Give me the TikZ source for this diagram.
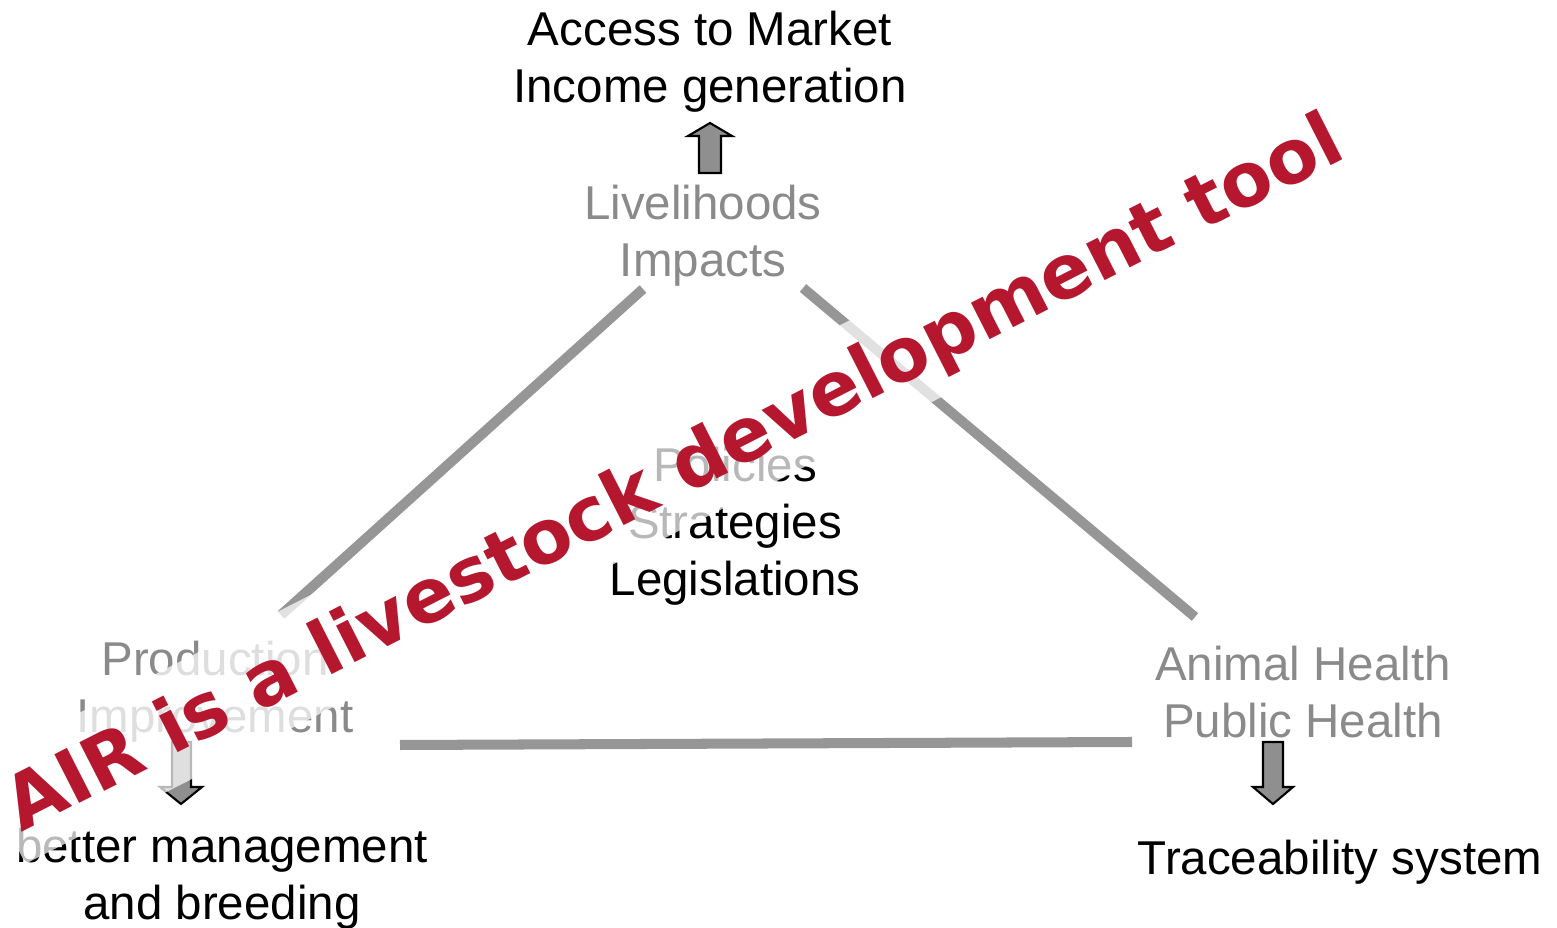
\documentclass[tikz,border=0pt]{standalone}
\usepackage{fontspec}
\setmainfont{Liberation Sans}
\newfontfamily\airfont{DejaVu Sans}
\usetikzlibrary{positioning}

\definecolor{airred}{RGB}{181,24,46}
\definecolor{linegray}{RGB}{150,150,150}
\definecolor{textgray}{RGB}{138,138,138}
\definecolor{arrowgray}{RGB}{143,143,143}

\begin{document}
\begin{tikzpicture}
  [x=0.01cm,y=-0.01cm,
   every node/.style={font=\fontsize{13.5}{16.2}\selectfont,align=center,inner sep=2pt},
   topic/.style={text=textgray},
   link/.style={draw=linegray,line width=2.85pt},
   blockarrow/.style={draw=black,fill=arrowgray,line width=0.6pt,line join=miter},
   airband/.style={anchor=base,rotate=27,fill=white,fill opacity=.72,text opacity=1,
     text=airred,font=\airfont\bfseries\fontsize{21.3}{21.3}\selectfont,
     text height=23pt,text depth=8.3pt,inner ysep=0pt,inner xsep=3pt}]
  \useasboundingbox (0,0) rectangle (1557,928);

  % corners of the triangle
  \node (market) at (710,62) {Access to Market\\Income generation};
  \node[topic] (liveli) at (703,236) {Livelihoods\\Impacts};
  \node (policy) at (735,526) {Policies\\Strategies\\Legislations};
  \node[topic] (prod) at (215,692) {Production\\Improvement};
  \node[topic] (health) at (1303,692) {Animal Health\\Public Health};
  \node (breed) at (222,879) {better management\\and breeding};
  \node (trace) at (1340,862) {Traceability system};

  % line ends
  \coordinate (lt) at (643,289);
  \coordinate (lb) at (281,615);
  \coordinate (rt) at (803,288);
  \coordinate (rb) at (1195,617);
  \coordinate (bl) at (400,745);
  \coordinate (br) at (1132,742);

  \draw[link] (lt) -- (lb);
  \draw[link] (rt) -- (rb);
  \draw[link] (bl) -- (br);

  % block arrows
  \draw[blockarrow] (699,173) -- (699,136) -- (688,136) -- (710,123)
    -- (732,136) -- (721,136) -- (721,173) -- cycle;
  \draw[blockarrow] (172,742) -- (172,787) -- (160,787) -- (181,804)
    -- (202,787) -- (191,787) -- (191,742) -- cycle;
  \draw[blockarrow] (1263,742) -- (1263,787) -- (1253,787) -- (1273,804)
    -- (1293,787) -- (1283,787) -- (1283,742) -- cycle;

  \node[airband] (air) at (685,495) {AIR is a livestock development tool};
\end{tikzpicture}
\end{document}
